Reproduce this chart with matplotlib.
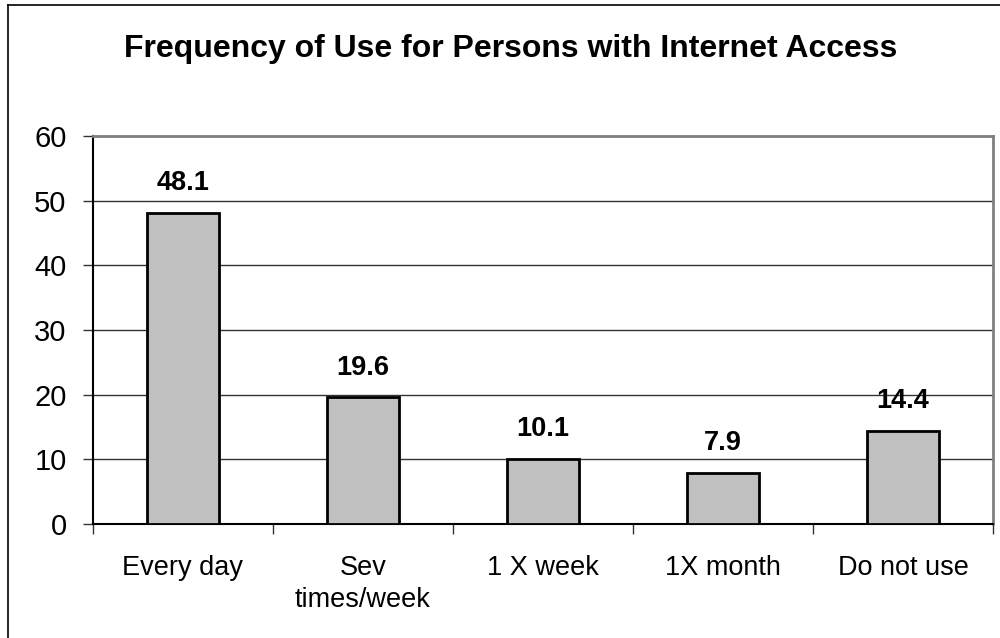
import matplotlib
matplotlib.use("Agg")
import matplotlib.pyplot as plt
from matplotlib.lines import Line2D
import numpy as np

plt.rcParams['font.family'] = ['Liberation Sans', 'DejaVu Sans']

categories = ["Every day", "Sev\ntimes/week", "1 X week", "1X month", "Do not use"]
values = [48.1, 19.6, 10.1, 7.9, 14.4]
value_labels = ["48.1", "19.6", "10.1", "7.9", "14.4"]
y_ticks = [0, 10, 20, 30, 40, 50, 60]
title = "Frequency of Use for Persons with Internet Access"

W, H = 1000, 638
fig = plt.figure(figsize=(W / 100, H / 100), dpi=100)
fig.patch.set_facecolor("white")

# outer chart border (left and top edges visible)
fig.add_artist(Line2D([8 / W, 8 / W], [0, 1 - 5 / H], transform=fig.transFigure,
                      color="black", lw=1.2))
fig.add_artist(Line2D([8 / W, 1], [1 - 5 / H, 1 - 5 / H], transform=fig.transFigure,
                      color="black", lw=1.2))

ax = fig.add_axes([93 / W, 1 - 524 / H, 900 / W, 388 / H])
x = np.arange(len(categories))
ax.bar(x, values, width=0.4, color="#C0C0C0", edgecolor="black", linewidth=2, zorder=3)

ax.set_xlim(-0.5, len(categories) - 0.5)
ax.set_ylim(0, 60)
ax.set_yticks(y_ticks)
ax.set_yticklabels([str(v) for v in y_ticks], fontsize=21)
ax.yaxis.grid(True, color="#333333", linewidth=1, zorder=0)
ax.tick_params(axis="y", length=7, width=1, pad=12, color="#333333")

# category boundaries carry the ticks, centres carry the labels
ax.set_xticks(np.arange(len(categories) + 1) - 0.5)
ax.set_xticklabels([])
ax.set_xticks(x, minor=True)
ax.set_xticklabels(categories, minor=True, fontsize=19.5, linespacing=1.3)
ax.tick_params(axis="x", which="major", length=7, width=1, direction="out", color="#333333")
ax.tick_params(axis="x", which="minor", length=0, pad=22)

for side in ("top", "right"):
    ax.spines[side].set_color("#808080")
    ax.spines[side].set_linewidth(2)
for side in ("left", "bottom"):
    ax.spines[side].set_color("black")
    ax.spines[side].set_linewidth(1.5)

for xi, v, lab in zip(x, values, value_labels):
    ax.annotate(lab, (xi, v), xytext=(0, 12), textcoords="offset points",
                ha="center", va="bottom", fontsize=19.5, fontweight="bold", zorder=4)

fig.text(511 / W, 1 - 57 / H, title, ha="center", va="baseline",
         fontsize=23, fontweight="bold")

fig.savefig("out.png", dpi=100, facecolor="white")
